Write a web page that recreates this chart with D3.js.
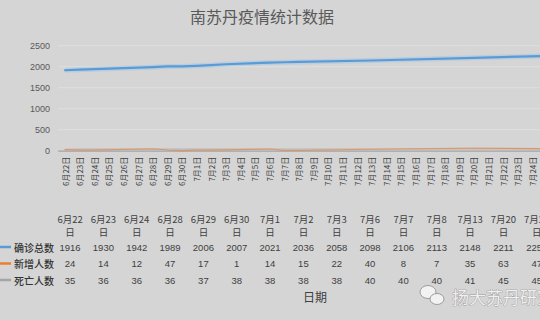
<!DOCTYPE html>
<html><head><meta charset="utf-8">
<script src="https://cdn.jsdelivr.net/npm/d3@7/dist/d3.min.js"></script>
<style>
body{margin:0;background:#d5d5d5}
svg{display:block}
</style>
</head><body>
<svg id="chart" width="540" height="320"></svg>
<script>
// ---- data ----
const chartTitle = "南苏丹疫情统计数据";
const axisTitle = "日期";
const axisDates = ["6月22日","6月23日","6月24日","6月25日","6月26日","6月27日","6月28日","6月29日","6月30日",
  "7月1日","7月2日","7月3日","7月4日","7月5日","7月6日","7月7日","7月8日","7月9日","7月10日",
  "7月11日","7月12日","7月13日","7月14日","7月15日","7月16日","7月17日","7月18日","7月19日","7月20日",
  "7月21日","7月22日","7月23日","7月24日","7月25日"];
const reportDates = ["6月22日","6月23日","6月24日","6月28日","6月29日","6月30日","7月1日","7月2日",
  "7月3日","7月6日","7月7日","7月8日","7月13日","7月20日","7月25日"];
const confirmed = [1916,1930,1942,1989,2006,2007,2021,2036,2058,2098,2106,2113,2148,2211,2258];
const newCases  = [24,14,12,47,17,1,14,15,22,40,8,7,35,63,47];
const deaths    = [35,36,36,36,37,38,38,38,38,40,40,40,41,45,45];
const seriesNames  = ["确诊总数","新增人数","死亡人数"];
const seriesColors = ["#5b9bd5","#ed7d31","#a5a5a5"];
const yTicks = [0,500,1000,1500,2000,2500];
const watermark = "扬大苏丹研究";

const series = [confirmed, newCases, deaths];
const cjk = "'Noto Sans CJK SC', sans-serif";
const num = "'Liberation Sans', Arial, sans-serif";
const textCol = "#595959";

const svg = d3.select("#chart");
svg.append("rect").attr("width",540).attr("height",320).attr("fill","#d5d5d5");

// title
svg.append("text").attr("x",262).attr("y",23).attr("text-anchor","middle")
  .attr("font-family",cjk).attr("font-size",16).attr("fill",textCol).text(chartTitle);

// scales
const x = d3.scaleBand().domain(axisDates).range([57.7, 554.1]);
const xc = d => x(d) + x.bandwidth()/2;
const y = d3.scaleLinear().domain([0,2500]).range([150.7, 45.7]);

// value axis and gridlines
const yAxis = d3.axisLeft(y).tickValues(yTicks).tickFormat(d3.format("d")).tickSize(0).tickPadding(0);
const gy = svg.append("g").attr("transform","translate(50,0)").call(yAxis);
gy.select(".domain").remove();
gy.selectAll("text").attr("font-family",num).attr("font-size",9).attr("fill",textCol);
svg.append("g").selectAll("line").data(yTicks.filter(t=>t>0)).join("line")
  .attr("x1",58).attr("x2",560).attr("y1",d=>y(d)).attr("y2",d=>y(d))
  .attr("stroke","#dfdfdf").attr("stroke-width",1);

// category axis
const xAxis = d3.axisBottom(x).tickSize(0).tickPadding(0);
const gx = svg.append("g").attr("transform",`translate(0,${y(0)})`).call(xAxis);
gx.select(".domain").attr("stroke","#a3a3a3").attr("stroke-width",1.3);
gx.selectAll(".tick text")
  .attr("font-family",cjk).attr("font-size",8).attr("fill","#404040")
  .attr("text-anchor","end").attr("dy",null).attr("y",null)
  .attr("transform","translate(0,6) rotate(-90)").attr("dominant-baseline","central");

// series lines
const line = d3.line().x((d,i)=>xc(reportDates[i])).y(d=>y(d));
svg.append("path").datum(confirmed).attr("d",line).attr("fill","none")
  .attr("stroke","#a9c8e6").attr("stroke-width",5).attr("stroke-opacity",0.6);
[2,1,0].forEach(k=>{
  svg.append("path").datum(series[k]).attr("d",line).attr("fill","none")
    .attr("stroke",seriesColors[k]).attr("stroke-width",k===0?2.2:1.2)
    .attr("stroke-opacity",k===0?1:0.6)
    .attr("stroke-linejoin","round").attr("stroke-linecap","round");
});

// data table
const tx = d3.scaleBand().domain(reportDates).range([53.4, 553.4]);
const txc = d => tx(d) + tx.bandwidth()/2;
const head = svg.append("g");
reportDates.forEach(d=>{
  head.append("text").attr("x",txc(d)).attr("y",223).attr("text-anchor","middle")
    .attr("font-family",cjk).attr("font-size",9.5).attr("fill","#404040").text(d.replace("日",""));
  head.append("text").attr("x",txc(d)).attr("y",236).attr("text-anchor","middle")
    .attr("font-family",cjk).attr("font-size",9.5).attr("fill","#404040").text("日");
});
const rowY = [247,263.5,280];
series.forEach((vals,k)=>{
  svg.append("line").attr("x1",0).attr("x2",11).attr("y1",rowY[k]).attr("y2",rowY[k])
    .attr("stroke",seriesColors[k]).attr("stroke-width",2.5);
  svg.append("text").attr("x",14).attr("y",rowY[k]).attr("dominant-baseline","central")
    .attr("font-family",cjk).attr("font-size",10).attr("font-weight",500).attr("fill","#333").text(seriesNames[k]);
  svg.append("g").selectAll("text").data(vals).join("text")
    .attr("x",(v,i)=>txc(reportDates[i])).attr("y",rowY[k]).attr("dominant-baseline","central")
    .attr("text-anchor","middle").attr("font-family",num).attr("font-size",9.5).attr("fill","#404040")
    .text(v=>v);
});
svg.append("text").attr("x",315).attr("y",302).attr("text-anchor","middle")
  .attr("font-family",cjk).attr("font-size",12).attr("fill","#404040").text(axisTitle);

// account mark in the lower right corner
const wm = svg.append("g").attr("opacity",0.95);
wm.append("ellipse").attr("cx",428).attr("cy",292).attr("rx",8).attr("ry",6.5)
  .attr("fill","#f4f4f4").attr("stroke","#9a9a9a").attr("stroke-width",1);
wm.append("ellipse").attr("cx",437).attr("cy",299).attr("rx",7).attr("ry",5.5)
  .attr("fill","#f4f4f4").attr("stroke","#9a9a9a").attr("stroke-width",1);
wm.append("text").attr("x",452).attr("y",304).attr("font-family",cjk).attr("font-size",17)
  .attr("fill","#f2f2f2").attr("stroke","#8a8a8a").attr("stroke-width",0.7)
  .attr("paint-order","stroke").text(watermark);
</script>
</body></html>
